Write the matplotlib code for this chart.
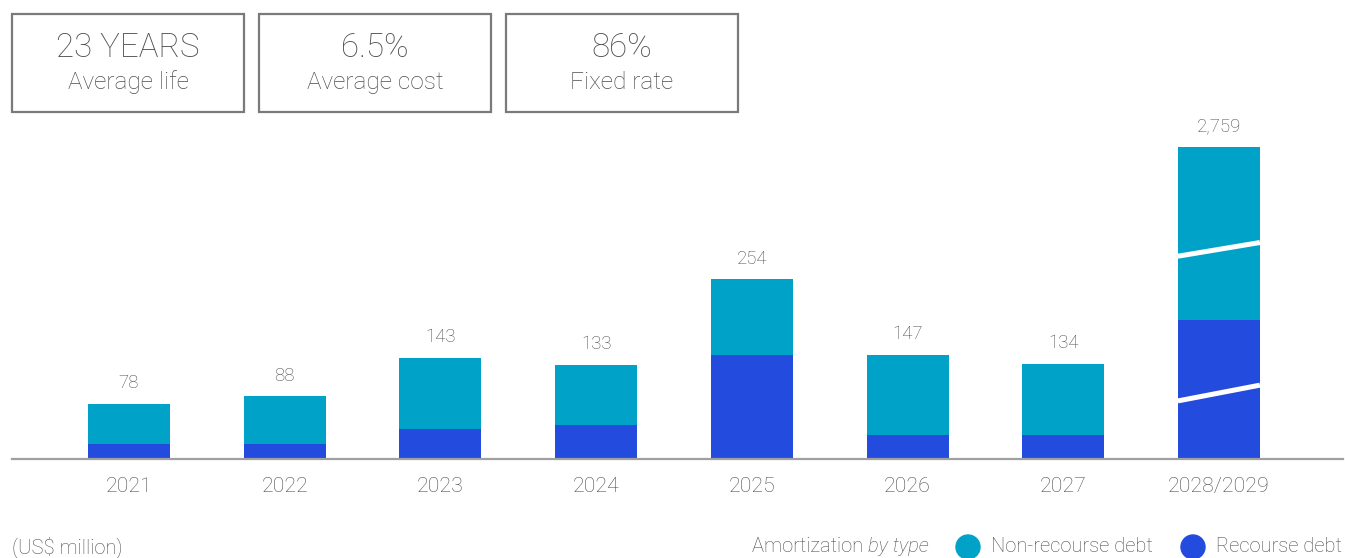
import matplotlib
matplotlib.use("Agg")
import matplotlib.pyplot as plt
from matplotlib.patches import Rectangle, Ellipse
import numpy as np

# -----------------------------------------------------
# Data (US$ million)
years = ['2021', '2022', '2023', '2024', '2025', '2026', '2027', '2028/2029']
totals = [78, 88, 143, 133, 254, 147, 134, 2759]
recourse = [21, 21, 42, 48, 147, 33, 33, 1227]
nonrecourse = [t - r for t, r in zip(totals, recourse)]
total_labels = ['78', '88', '143', '133', '254', '147', '134', '2,759']

kpi_values = ['23 YEARS', '6.5%', '86%']
kpi_labels = ['Average life', 'Average cost', 'Fixed rate']

# the last bar is drawn compressed (broken bar)
break_scale = 0.16

NONREC = '#00A3C7'
REC = '#234BDD'
TXT = '#4d4d4d'
FONT = ['Roboto', 'DejaVu Sans']

plt.rcParams['font.family'] = FONT
plt.rcParams['font.weight'] = 'light'

W, H = 1345, 558
fig = plt.figure(figsize=(W / 100, H / 100), dpi=100)

# axes placed in pixel terms
base_px = 458.5
top_px = 100
ax = fig.add_axes([12 / W, (H - base_px) / H, (1343 - 12) / W, (base_px - top_px) / H])

px_per_unit = 0.705
step = 155.7
ax.set_xlim(-(129 - 12) / step, (1343 - 129) / step)
ax.set_ylim(0, (base_px - top_px) / px_per_unit)

x = np.arange(len(years))
scale = np.ones(len(years))
scale[-1] = break_scale
rec_disp = np.array(recourse) * scale
non_disp = np.array(nonrecourse) * scale
bw = 82 / step

ax.bar(x, rec_disp, bw, color=REC, zorder=2)
ax.bar(x, non_disp, bw, bottom=rec_disp, color=NONREC, zorder=2)

# value labels
for xi, r, n, lab in zip(x, rec_disp, non_disp, total_labels):
    ax.annotate(lab, (xi, r + n), xytext=(0, 8.5), textcoords='offset points',
                ha='center', va='bottom', fontsize=13.4, color=TXT)

# white break marks on the compressed bar
xl, xr = x[-1] - bw / 2, x[-1] + bw / 2
tot_last = rec_disp[-1] + non_disp[-1]
ax.plot([xl, xr], [tot_last * 0.65, tot_last * 0.694], color='white', lw=3.6,
        solid_capstyle='butt', zorder=3)
ax.plot([xl, xr], [rec_disp[-1] * 0.416, rec_disp[-1] * 0.53], color='white', lw=3.6,
        solid_capstyle='butt', zorder=3)

# axes styling
for s in ['top', 'right', 'left']:
    ax.spines[s].set_visible(False)
ax.spines['bottom'].set_color('#a0a0a0')
ax.spines['bottom'].set_linewidth(1.6)
ax.spines['bottom'].set_zorder(4)
ax.set_yticks([])
ax.set_xticks(x)
ax.set_xticklabels(years, fontsize=15.3, color=TXT)
ax.tick_params(axis='x', length=0, pad=13.5)

# KPI boxes across the top
box_left = [12, 259, 506]
for bx, val, lab in zip(box_left, kpi_values, kpi_labels):
    fig.add_artist(Rectangle((bx / W, (H - 112) / H), 232 / W, 98 / H,
                             transform=fig.transFigure, fill=False,
                             edgecolor='#7a7a7a', linewidth=1.6))
    cx = (bx + 116) / W
    fig.text(cx, (H - 48) / H, val, ha='center', va='center', fontsize=23.8, color=TXT)
    fig.text(cx, (H - 82) / H, lab, ha='center', va='center', fontsize=17.6, color=TXT)

# footer
ty = (H - 547) / H
fs = 14.5
fig.text(12 / W, ty, '(US$ million)', ha='left', va='center', fontsize=fs, color=TXT)
t1 = fig.text(752 / W, ty, 'Amortization ', ha='left', va='center', fontsize=fs, color=TXT)
fig.canvas.draw()
bb = t1.get_window_extent()
fig.text(bb.x1 / W, ty, 'by type', ha='left', va='center', fontsize=fs, color=TXT,
         style='italic')

for cxp, col, lab in [(968, NONREC, 'Non-recourse debt'), (1193, REC, 'Recourse debt')]:
    fig.add_artist(Ellipse((cxp / W, ty), 24 / W, 24 / H, transform=fig.transFigure,
                           color=col))
    fig.text((cxp + 23) / W, ty, lab, ha='left', va='center', fontsize=fs, color=TXT)

fig.savefig('out.png', dpi=100)
